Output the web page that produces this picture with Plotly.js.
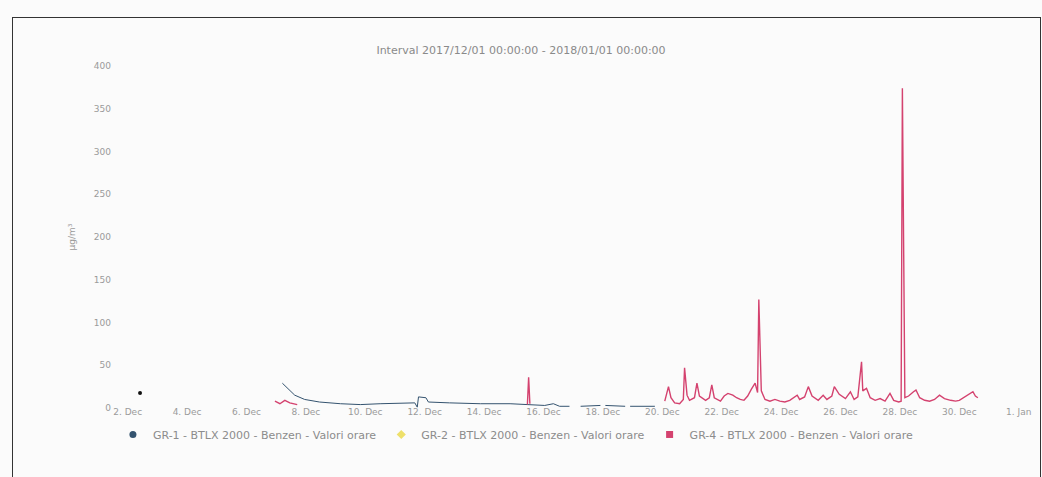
<!DOCTYPE html>
<html><head><meta charset="utf-8">
<script src="https://cdn.plot.ly/plotly-3.0.1.min.js"></script>
<style>
html,body{margin:0;padding:0;background:#fbfbfb;}
#chart{position:absolute;left:0;top:0;width:1042px;height:477px;}
#frame{position:absolute;left:12px;top:17px;width:1027px;height:470px;border:1px solid #333;pointer-events:none;}
</style></head>
<body>
<div id="chart"></div><div id="frame"></div>
<script>
// GR-1 (blue) hourly values
const gr1Times = ['2017-12-02 10:00',null,
 '2017-12-07 05:00','2017-12-07 10:00','2017-12-07 15:00','2017-12-07 23:00','2017-12-08 11:00','2017-12-09 04:00',
 '2017-12-09 20:00','2017-12-10 12:00','2017-12-11 04:00','2017-12-11 16:00','2017-12-11 18:00','2017-12-11 19:00',
 '2017-12-12 01:00','2017-12-12 03:00','2017-12-12 20:00','2017-12-13 21:00','2017-12-14 21:00','2017-12-15 13:00',
 '2017-12-16 01:00','2017-12-16 08:00','2017-12-16 13:00','2017-12-16 21:00',null,
 '2017-12-17 06:00','2017-12-17 22:00',null,'2017-12-18 02:00','2017-12-18 18:00',null,'2017-12-18 22:00','2017-12-19 18:00'];
const gr1Values = [17.5,null,
 29,22,15,10,7,5,
 4,5,6,6,1,13,
 12,7,6,5,5,4,
 3,5,2,2,null,
 2,3,null,3,2,null,2,2];

// GR-2 (yellow) - no data visible
const gr2Times = [];
const gr2Values = [];

// GR-4 (pink) hourly values
const gr4Times = ['2017-12-06 23:00','2017-12-07 03:00','2017-12-07 07:00','2017-12-07 11:00','2017-12-07 17:00',null,
 '2017-12-15 11:00','2017-12-15 12:00','2017-12-15 13:00',null,
 '2017-12-20 02:00','2017-12-20 05:00','2017-12-20 07:00','2017-12-20 10:00','2017-12-20 14:00','2017-12-20 17:00',
 '2017-12-20 18:00','2017-12-20 20:00','2017-12-20 22:00','2017-12-21 02:00','2017-12-21 04:00','2017-12-21 06:00',
 '2017-12-21 11:00','2017-12-21 14:00','2017-12-21 16:00','2017-12-21 18:00','2017-12-21 23:00','2017-12-22 02:00',
 '2017-12-22 05:00','2017-12-22 09:00','2017-12-22 12:00','2017-12-22 15:00','2017-12-22 18:00','2017-12-22 21:00',
 '2017-12-23 00:00','2017-12-23 03:00','2017-12-23 05:00','2017-12-23 06:00','2017-12-23 08:00','2017-12-23 11:00',
 '2017-12-23 15:00','2017-12-23 19:00','2017-12-23 23:00','2017-12-24 03:00','2017-12-24 07:00','2017-12-24 13:00',
 '2017-12-24 15:00','2017-12-24 19:00','2017-12-24 22:00','2017-12-25 01:00','2017-12-25 06:00','2017-12-25 10:00',
 '2017-12-25 13:00','2017-12-25 17:00','2017-12-25 19:00','2017-12-25 23:00','2017-12-26 04:00','2017-12-26 08:00',
 '2017-12-26 11:00','2017-12-26 14:00','2017-12-26 17:00','2017-12-26 18:00','2017-12-26 21:00','2017-12-27 00:00',
 '2017-12-27 04:00','2017-12-27 08:00','2017-12-27 12:00','2017-12-27 16:00','2017-12-27 19:00','2017-12-27 23:00',
 '2017-12-28 01:00','2017-12-28 02:00','2017-12-28 04:00','2017-12-28 07:00','2017-12-28 11:00','2017-12-28 13:00',
 '2017-12-28 16:00','2017-12-28 20:00','2017-12-29 00:00','2017-12-29 04:00','2017-12-29 08:00','2017-12-29 12:00',
 '2017-12-29 17:00','2017-12-29 21:00','2017-12-30 00:00','2017-12-30 05:00','2017-12-30 09:00','2017-12-30 11:00',
 '2017-12-30 13:00','2017-12-30 15:00'];
const gr4Values = [8,5,9,6,4,null,
 4,36,5,null,
 8,25,12,6,5,10,
 47,15,9,12,29,14,
 9,12,27,12,8,14,
 17,15,12,10,9,14,
 22,29,18,127,20,10,
 8,10,8,7,9,15,
 10,13,25,14,9,15,
 10,14,25,16,11,19,
 10,13,54,20,23,12,
 9,11,8,17,9,7,
 8,374,12,14,19,21,
 12,9,8,10,15,11,
 9,8,9,14,18,19,
 14,12];

const seriesNames = ['GR-1 - BTLX 2000 - Benzen - Valori orare','GR-2 - BTLX 2000 - Benzen - Valori orare','GR-4 - BTLX 2000 - Benzen - Valori orare'];
const tickDates = ['2017-12-02','2017-12-04','2017-12-06','2017-12-08','2017-12-10','2017-12-12','2017-12-14','2017-12-16',
 '2017-12-18','2017-12-20','2017-12-22','2017-12-24','2017-12-26','2017-12-28','2017-12-30','2018-01-01'];
const tickLabels = ['2. Dec','4. Dec','6. Dec','8. Dec','10. Dec','12. Dec','14. Dec','16. Dec',
 '18. Dec','20. Dec','22. Dec','24. Dec','26. Dec','28. Dec','30. Dec','1. Jan'];
const yTicks = [0,50,100,150,200,250,300,350,400];
const isolatedTimes = ['2017-12-02 10:00'];
const isolatedValues = [17.5];

const c1 = '#34536f', c2 = '#eee06a', c4 = '#d4426f';
const txt = '#9a9a9a';
const F = 'DejaVu Sans, Verdana, sans-serif';

const traces = [
 {x: gr1Times, y: gr1Values, type:'scatter', mode:'lines', line:{color:c1,width:1}, connectgaps:false, showlegend:false},
 {x: isolatedTimes, y: isolatedValues, type:'scatter', mode:'markers', marker:{color:'#111',size:4}, showlegend:false},
 {x: gr2Times, y: gr2Values, type:'scatter', mode:'lines', line:{color:c2,width:1}, showlegend:false},
 {x: gr4Times, y: gr4Values, type:'scatter', mode:'lines', line:{color:c4,width:1.4}, connectgaps:false, showlegend:false},
 {x:[null], y:[null], type:'scatter', mode:'markers', name:seriesNames[0], marker:{color:c1,symbol:'circle',size:7}},
 {x:[null], y:[null], type:'scatter', mode:'markers', name:seriesNames[1], marker:{color:c2,symbol:'diamond',size:7}},
 {x:[null], y:[null], type:'scatter', mode:'markers', name:seriesNames[2], marker:{color:c4,symbol:'square',size:7}}
];

const layout = {
 width:1042, height:477,
 paper_bgcolor:'rgba(0,0,0,0)', plot_bgcolor:'rgba(0,0,0,0)',
 margin:{l:112, r:7, t:66, b:69},
 font:{family:F, size:9, color:txt},
 title:{text:'Interval 2017/12/01 00:00:00 - 2018/01/01 00:00:00', font:{family:F,size:11,color:'#8a8a8a'}, x:0.5, xanchor:'center', y:0.895, yanchor:'middle'},
 xaxis:{type:'date', range:['2017-12-01 11:20','2018-01-01 13:10'], tickmode:'array', tickvals:tickDates, ticktext:tickLabels,
   showgrid:false, zeroline:false, showline:false, ticks:'', tickfont:{size:9,color:txt}, ticklabelstandoff:-3},
 yaxis:{range:[0,400], tickmode:'array', tickvals:yTicks, showgrid:false, zeroline:false, showline:false, ticks:'',
   tickfont:{size:9,color:txt}, title:{text:'µg/m³', font:{size:9,color:txt}, standoff:16}},
 showlegend:true,
 legend:{orientation:'h', x:0.001, xanchor:'left', y:-0.035, yanchor:'top', font:{size:11,color:'#8c8c8c'}, itemwidth:30, tracegroupgap:0}
};

Plotly.newPlot('chart', traces, layout, {staticPlot:true, displayModeBar:false});
</script>
</body></html>
